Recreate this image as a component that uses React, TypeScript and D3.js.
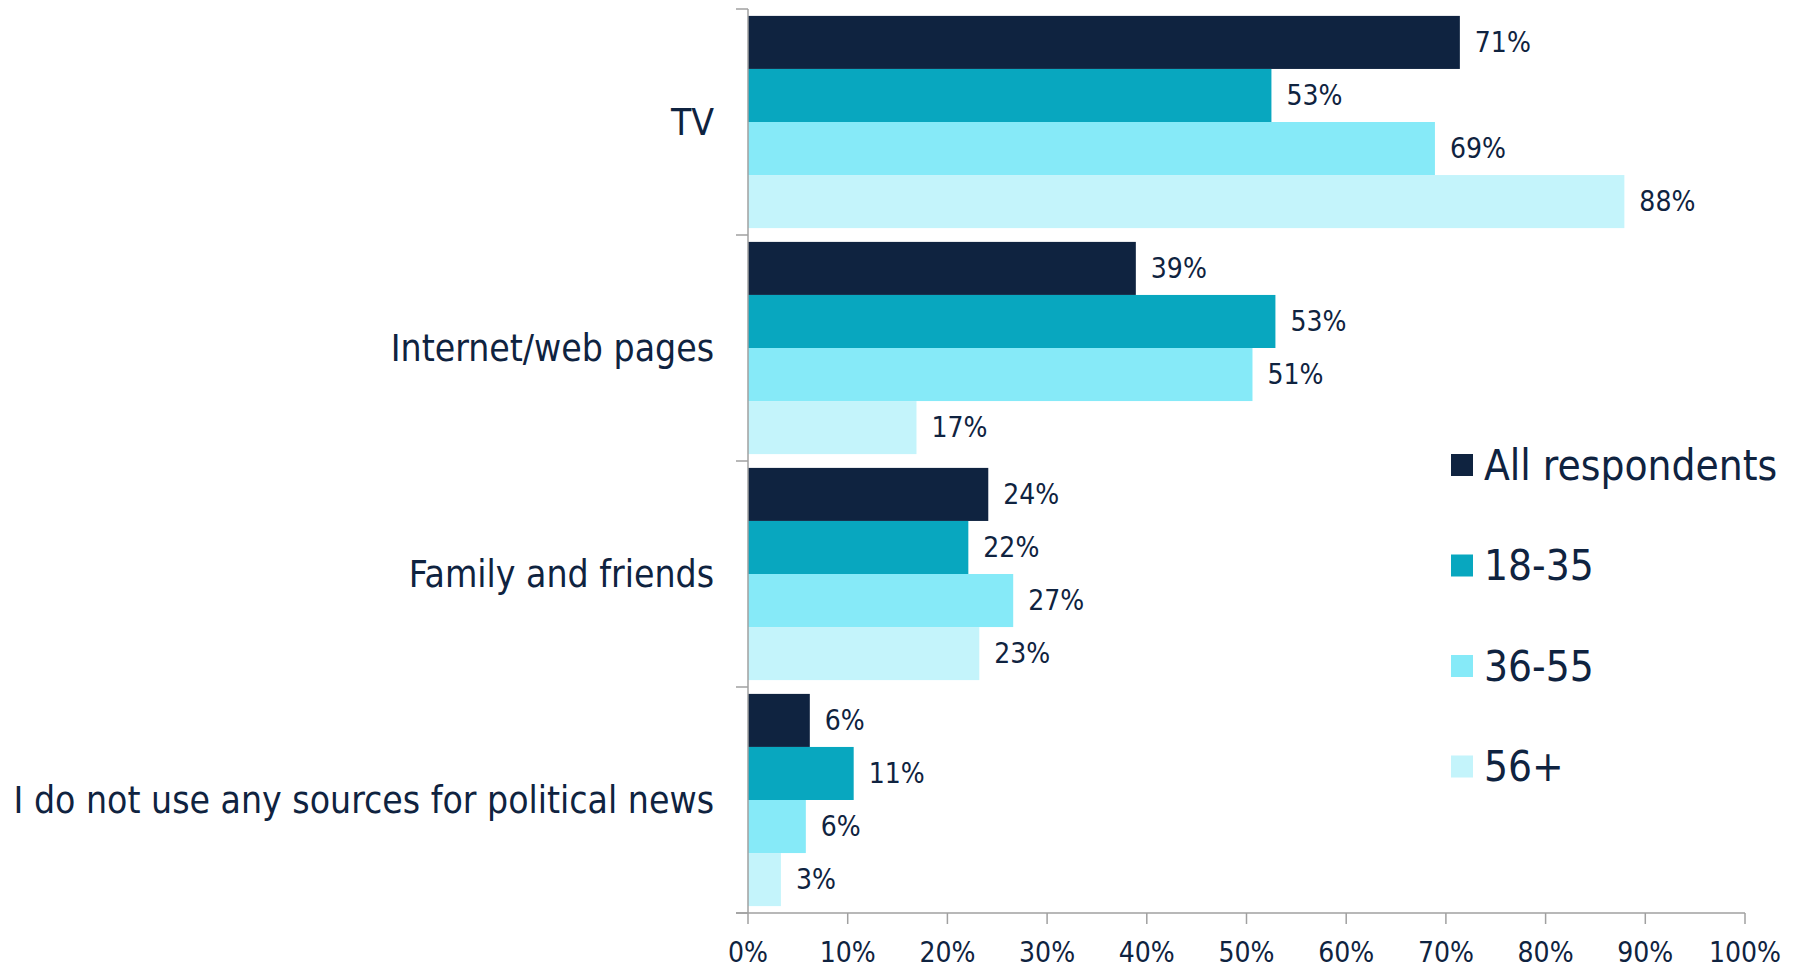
import React from "react";
import * as d3 from "d3";

const categories = ["TV", "Internet/web pages", "Family and friends", "I do not use any sources for political news"];
const seriesNames = ["All respondents", "18-35", "36-55", "56+"];
const allRespondents = [71.4, 38.9, 24.1, 6.2];
const age18to35 = [52.5, 52.9, 22.1, 10.6];
const age36to55 = [68.9, 50.6, 26.6, 5.8];
const age56plus = [87.9, 16.9, 23.2, 3.3];
const colors = ["#0f2340", "#08a7bf", "#86eaf8", "#c4f4fb"];
const xTicks = [0, 10, 20, 30, 40, 50, 60, 70, 80, 90, 100];

const seriesValues = [allRespondents, age18to35, age36to55, age56plus];

const W = 1799;
const H = 969;
const left = 748;
const right = 1745;
const top = 9;
const bottom = 913;
const textColor = "#0f2340";
const font = "'DejaVu Sans Condensed', 'DejaVu Sans', sans-serif";

export default function App() {
  const x = d3.scaleLinear().domain([0, 100]).range([left, right]);
  const y0 = d3.scaleBand<string>().domain(categories).range([top, bottom]).paddingInner(0).paddingOuter(0);
  const y1 = d3
    .scaleBand<string>()
    .domain(seriesNames)
    .range([0, y0.bandwidth()])
    .paddingOuter(0.13)
    .paddingInner(0);

  return (
    <svg width={W} height={H} style={{ display: "block", position: "absolute", left: 0, top: 0 }} fontFamily={font}>
      {categories.map((c, ci) => (
        <g key={c} transform={`translate(0,${y0(c)})`}>
          {seriesNames.map((s, si) => {
            const v = seriesValues[si][ci];
            const yy = y1(s)!;
            return (
              <g key={s}>
                <rect x={x(0)} y={yy} width={x(v) - x(0)} height={y1.bandwidth()} fill={colors[si]} />
                <text
                  x={x(v) + 15}
                  y={yy + y1.bandwidth() / 2}
                  dy="0.35em"
                  fontSize={28}
                  fill={textColor}
                >
                  {Math.round(v)}%
                </text>
              </g>
            );
          })}
          <text
            x={left - 34}
            y={y0.bandwidth() / 2}
            dy="0.35em"
            textAnchor="end"
            fontSize={37}
            fill={textColor}
          >
            {c}
          </text>
        </g>
      ))}
      {/* y axis */}
      <line x1={left} x2={left} y1={top} y2={bottom} stroke="#a0a0a0" strokeWidth={1.5} />
      {[...categories.map((c) => y0(c)!), bottom].map((t, i) => (
        <line key={i} x1={left - 12} x2={left} y1={t} y2={t} stroke="#a0a0a0" strokeWidth={1.5} />
      ))}
      {/* x axis */}
      <line x1={left - 12} x2={right} y1={bottom} y2={bottom} stroke="#a0a0a0" strokeWidth={1.5} />
      {xTicks.map((t) => (
        <g key={t}>
          <line x1={x(t)} x2={x(t)} y1={bottom} y2={bottom + 11} stroke="#a0a0a0" strokeWidth={1.5} />
          <text x={x(t)} y={952} dy="0.35em" textAnchor="middle" fontSize={28} fill={textColor}>
            {t}%
          </text>
        </g>
      ))}
      {/* legend */}
      {seriesNames.map((s, i) => (
        <g key={s} transform={`translate(1451,${465 + i * 100.5})`}>
          <rect x={0} y={-11} width={22} height={22} fill={colors[i]} />
          <text x={33} y={0} dy="0.35em" fontSize={42} fill={textColor}>
            {s}
          </text>
        </g>
      ))}
    </svg>
  );
}
